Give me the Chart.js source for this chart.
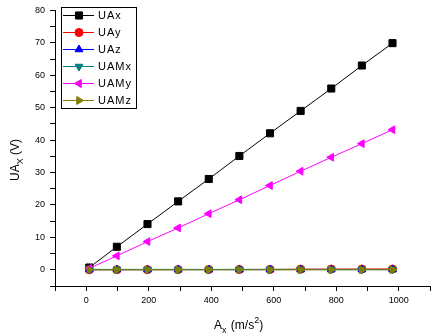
<!DOCTYPE html>
<html>
<head>
<meta charset="utf-8">
<script src="https://cdn.jsdelivr.net/npm/chart.js@4/dist/chart.umd.min.js"></script>
<style>
  html, body { margin: 0; padding: 0; background: #fff; }
  #wrap { width: 437px; height: 336px; position: relative; }
</style>
</head>
<body>
<div id="wrap"><canvas id="c"></canvas></div>
<script>
// acceleration in m/s^2 (1 g .. 100 g)
const accel = [9.8, 98, 196, 294, 392, 490, 588, 686, 784, 882, 980];
const seriesNames = ["UAx", "UAy", "UAz", "UAMx", "UAMy", "UAMz"];
const uaX  = [0.7, 7.1, 14.1, 21.1, 28.0, 35.1, 42.1, 49.0, 55.9, 63.0, 69.9];
const uaY  = [0.02, 0.03, 0.05, 0.06, 0.08, 0.1, 0.12, 0.2, 0.22, 0.24, 0.26];
const uaZ  = [0.03, 0.04, 0.04, 0.05, 0.05, 0.05, 0.05, 0.06, 0.06, 0.06, 0.06];
const uaMx = [0.12, 0.12, 0.12, 0.12, 0.12, 0.12, 0.12, 0.12, 0.12, 0.12, 0.12];
const uaMy = [0.45, 4.3, 8.7, 12.9, 17.3, 21.6, 26.0, 30.4, 34.7, 38.9, 43.2];
const uaMz = [0, 0, 0, 0, 0, 0, 0, 0, 0, 0, 0];
const xTicks = [0, 200, 400, 600, 800, 1000];
const yTicks = [0, 10, 20, 30, 40, 50, 60, 70, 80];

const colors = ["#000000", "#ff0000", "#0000ff", "#008080", "#ff00ff", "#808000"];
const shapes = ["rect", "circle", "triangle", "triangle", "triangle", "triangle"];
const rotations = [0, 0, 0, 180, 270, 90];
const radii = [5, 4, 4.5, 4.5, 4.5, 4.5];
const allValues = [uaX, uaY, uaZ, uaMx, uaMy, uaMz];

const datasets = seriesNames.map((name, i) => ({
  label: name,
  data: accel.map((x, k) => ({ x, y: allValues[i][k] })),
  showLine: true,
  borderColor: colors[i],
  backgroundColor: colors[i],
  borderWidth: 1,
  pointStyle: shapes[i],
  rotation: rotations[i],
  pointRadius: radii[i],
  pointBorderWidth: 1,
  order: 5 - i
}));

const FONT = "'Liberation Sans', Arial, sans-serif";

// legend box + axis titles (with sub/superscripts)
const decor = {
  id: "decor",
  afterDraw(chart) {
    const ctx = chart.ctx;
    ctx.save();
    // legend
    ctx.strokeStyle = "#000";
    ctx.lineWidth = 1;
    ctx.strokeRect(61.5, 7.5, 75, 101);
    ctx.font = "11px " + FONT;
    ctx.textBaseline = "middle";
    ctx.letterSpacing = "1px";
    datasets.forEach((ds, i) => {
      const y = 15.5 + i * 17;
      ctx.strokeStyle = ds.borderColor;
      ctx.beginPath(); ctx.moveTo(63, y); ctx.lineTo(94, y); ctx.stroke();
      ctx.fillStyle = ds.backgroundColor;
      Chart.helpers.drawPoint(ctx, {
        pointStyle: ds.pointStyle, rotation: ds.rotation,
        radius: ds.pointRadius, borderWidth: 1
      }, 79, y);
      ctx.fill();
      ctx.fillStyle = "#000";
      ctx.textAlign = "left";
      ctx.fillText(ds.label, 98, y + 0.5);
    });
    ctx.letterSpacing = "0px";

    // x title: A_x (m/s^2)
    ctx.fillStyle = "#000";
    ctx.textBaseline = "alphabetic";
    let x = 214, y = 329;
    ctx.font = "12px " + FONT;
    ctx.fillText("A", x, y); x += ctx.measureText("A").width;
    ctx.font = "9px " + FONT;
    ctx.fillText("x", x, y + 4); x += ctx.measureText("x").width + 1;
    ctx.font = "12px " + FONT;
    ctx.fillText(" (m/s", x, y); x += ctx.measureText(" (m/s").width;
    ctx.font = "9px " + FONT;
    ctx.fillText("2", x, y - 6); x += ctx.measureText("2").width;
    ctx.font = "12px " + FONT;
    ctx.fillText(")", x, y);

    // y title: UA_X (V), rotated
    ctx.translate(19, 181);
    ctx.rotate(-Math.PI / 2);
    x = 0; y = 0;
    ctx.fillText("UA", x, y); x += ctx.measureText("UA").width;
    ctx.font = "9px " + FONT;
    ctx.fillText("X", x, y + 4); x += ctx.measureText("X").width;
    ctx.font = "12px " + FONT;
    ctx.fillText(" (V)", x, y);
    ctx.restore();
  }
};

new Chart(document.getElementById("c"), {
  type: "scatter",
  data: { datasets },
  plugins: [decor],
  options: {
    responsive: true,
    maintainAspectRatio: false,
    animation: false,
    layout: { padding: { top: 9, right: 7, left: 0, bottom: 0 } },
    plugins: { legend: { display: false }, tooltip: { enabled: false } },
    scales: {
      x: {
        type: "linear",
        min: -100, max: 1100,
        afterFit: s => { s.height = 50; },
        border: { display: true, color: "#000", width: 1 },
        grid: { drawOnChartArea: false, drawTicks: true, tickLength: 5, color: "#000" },
        ticks: {
          stepSize: 100, color: "#000", padding: 4, maxRotation: 0, autoSkip: false,
          font: { size: 9, family: FONT },
          callback: v => xTicks.includes(v) ? String(v) : ""
        }
      },
      y: {
        type: "linear",
        min: -5, max: 80,
        afterFit: s => { s.width = 55; },
        border: { display: true, color: "#000", width: 1 },
        grid: { drawOnChartArea: false, drawTicks: true, tickLength: 5, color: "#000" },
        ticks: {
          stepSize: 5, color: "#000", padding: 5, autoSkip: false,
          font: { size: 9, family: FONT },
          callback: v => yTicks.includes(v) ? String(v) : ""
        }
      }
    }
  }
});
</script>
</body>
</html>
